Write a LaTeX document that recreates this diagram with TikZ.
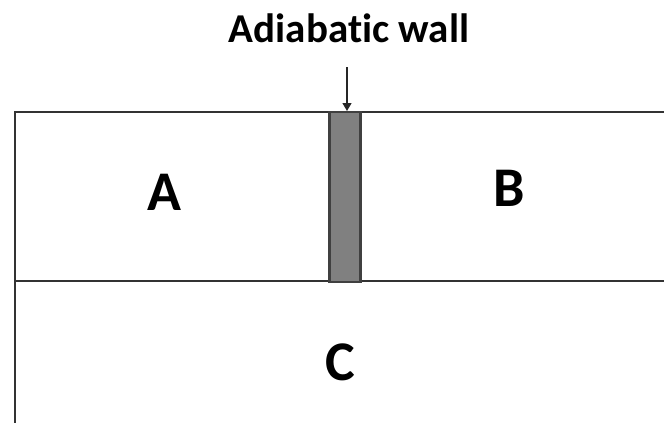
\documentclass[tikz,border=0pt]{standalone}
\usepackage{fontspec}
\setmainfont{Carlito}[Ligatures=NoCommon]
\usetikzlibrary{arrows.meta}
\begin{document}
\begin{tikzpicture}[x=1pt,y=-1pt,
  wallline/.style={draw=black!80, line width=2.6pt},
  big/.style={font=\bfseries\fontsize{56}{60}\selectfont, inner sep=0pt},
  title/.style={font=\bfseries\fontsize{41}{44}\selectfont, inner sep=0pt}]
\useasboundingbox (0,0) rectangle (664,423);
\coordinate (tl) at (15,112);
\coordinate (tr) at (664,112);
\coordinate (ml) at (15,281);
\coordinate (mr) at (664,281);
\coordinate (bl) at (15,423);
\draw[wallline] (tr) -- (tl) -- (bl);
\draw[wallline] (ml) -- (mr);
\node[draw=black!75, line width=2.4pt, fill=black!50, minimum width=31pt, minimum height=170pt, inner sep=0pt, anchor=north] (wall) at (345,111) {};
\node[title, anchor=base] (lbl) at (349,42) {Adiabatic wall};
\coordinate (arrs) at (347,67);
\draw[black!85, line width=1.3pt, -{Triangle[length=8pt,width=9pt]}] (arrs) -- (wall.north -| arrs);
\node[big] (A) at (164,192) {A};
\node[big] (B) at (509,188) {B};
\node[big] (C) at (340,362) {C};
\end{tikzpicture}
\end{document}
